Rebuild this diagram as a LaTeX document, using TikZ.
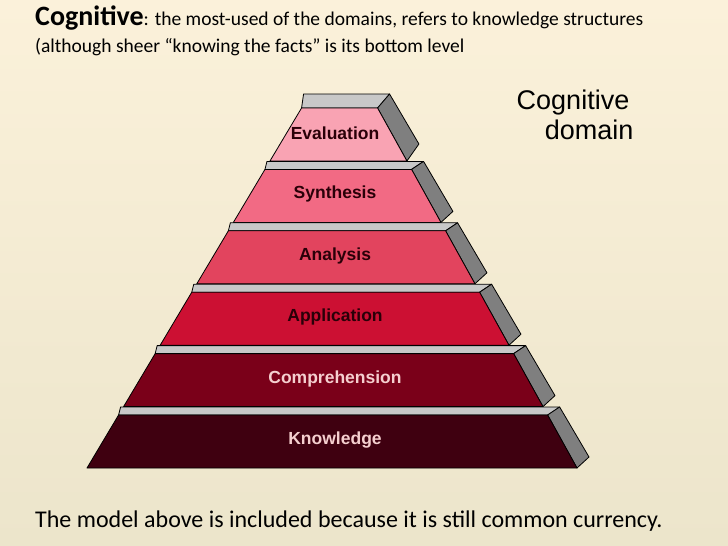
\documentclass[tikz,border=0pt]{standalone}
\usepackage{fontspec}
\setmainfont{Carlito}
\newfontfamily\arial{Liberation Sans}
\definecolor{bgtop}{HTML}{FBF1DA}
\definecolor{bgbot}{HTML}{ECE5CB}
\definecolor{cA}{HTML}{F9A3B3}
\definecolor{cB}{HTML}{F26A84}
\definecolor{cC}{HTML}{E2445E}
\definecolor{cD}{HTML}{CC1033}
\definecolor{cE}{HTML}{7A0019}
\definecolor{cF}{HTML}{3F0010}
\definecolor{tdark}{HTML}{2A0008}
\definecolor{tlight}{HTML}{F5CFCF}
\definecolor{topg}{HTML}{C8C8C8}
\definecolor{sideg}{HTML}{7F7F7F}
\tikzset{face/.style={draw=black,line width=0.8pt,line join=round},
  lbl/.style={font=\arial\bfseries\fontsize{17.5}{19}\selectfont}}
\begin{document}
\begin{tikzpicture}[x=1pt,y=-1pt]
\useasboundingbox (0,0) rectangle (728,546);
\shade[top color=bgtop,bottom color=bgbot] (0,0) rectangle (728,546);
\foreach \i/\nm/\col/\tc in {0/Evaluation/cA/tdark,1/Synthesis/cB/tdark,2/Analysis/cC/tdark,3/Application/cD/tdark,4/Comprehension/cE/tlight,5/Knowledge/cF/tlight}{
  \pgfmathsetmacro{\yb}{161+61.4*\i}
  \pgfmathsetmacro{\yt}{\yb-53}
  \pgfmathsetmacro{\th}{\i==0 ? 14 : 8}
  \pgfmathsetmacro{\xlb}{87+0.596*(468-\yb)}
  \pgfmathsetmacro{\xrb}{577-0.554*(468-\yb)}
  \pgfmathsetmacro{\xlt}{87+0.596*(468-\yt)}
  \pgfmathsetmacro{\xrt}{577-0.554*(468-\yt)}
  \pgfmathsetmacro{\yy}{\yt-\th}
  \fill[topg,face] (\xlt,\yt) -- (\xlt+2,\yy) -- (\xrt+12,\yy) -- (\xrt,\yt) -- cycle;
  \fill[sideg,face] (\xrt,\yt) -- (\xrt+12,\yy) -- (\xrb+12,\yb-\th-3) -- (\xrb,\yb) -- cycle;
  \fill[\col,face] (\xlb,\yb) -- (\xlt,\yt) -- (\xrt,\yt) -- (\xrb,\yb) -- cycle;
  \node[lbl,text=\tc] (n\i) at (335,\yb-28) {\nm};
}
\node[anchor=base west,inner sep=0,font=\fontsize{19.5}{22}\selectfont] (h1) at (35,25) {{\bfseries\fontsize{28}{30}\selectfont Cognitive}: the most-used of the domains, refers to knowledge structures};
\node[anchor=base west,inner sep=0,font=\fontsize{19.5}{22}\selectfont] (h2) at (35,52) {(although sheer “knowing the facts” is its bottom level};
\node[align=center,inner sep=0,font=\arial\fontsize{27}{30}\selectfont] (cd) at (573,115) {Cognitive\\\hspace*{1.2em}domain};
\node[anchor=base west,inner sep=0,font=\fontsize{24}{28}\selectfont] (ft) at (35,527) {The model above is included because it is still common currency.};
\end{tikzpicture}
\end{document}
